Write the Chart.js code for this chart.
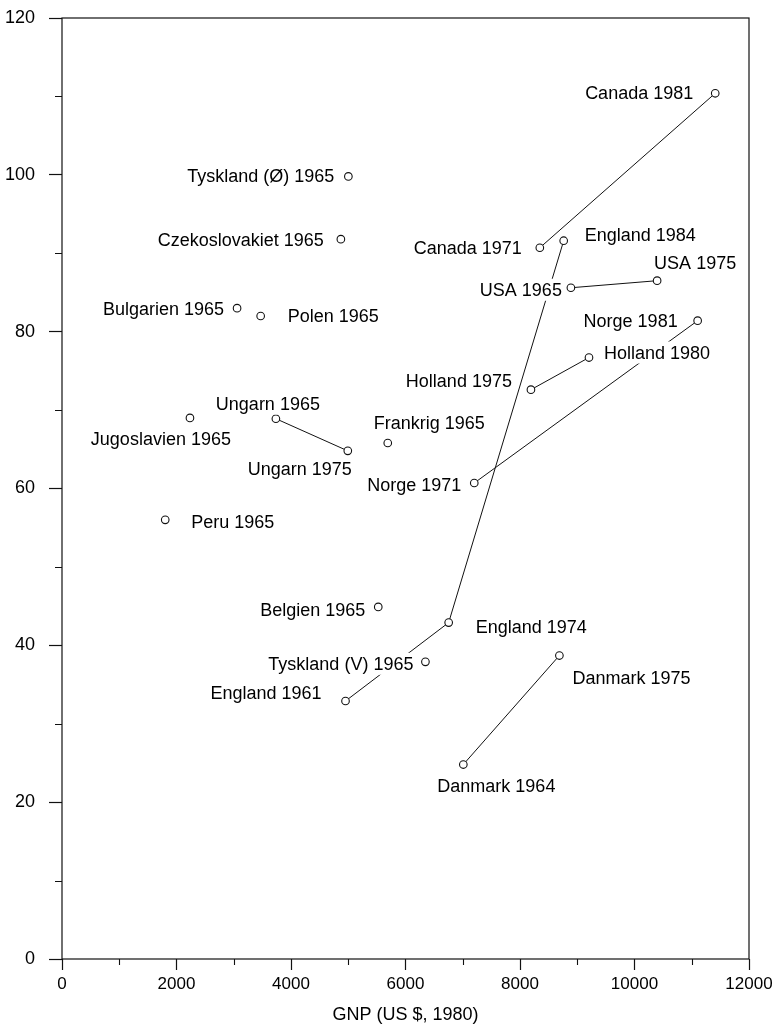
<!DOCTYPE html>
<html>
<head>
<meta charset="utf-8">
<script src="https://cdn.jsdelivr.net/npm/chart.js@4/dist/chart.umd.min.js"></script>
<style>
html,body{margin:0;padding:0;background:#fff;}
#wrap{width:773px;height:1030px;position:relative;}
</style>
</head>
<body>
<div id="wrap"><canvas id="c" width="773" height="1030" style="width:773px;height:1030px"></canvas></div>
<script>
// ---- data ----
const seriesNames = ["Canada", "England", "USA", "Norge", "Holland", "Ungarn", "Danmark",
  "Tyskland (Ø)", "Czekoslovakiet", "Bulgarien", "Polen", "Jugoslavien", "Peru",
  "Frankrig", "Belgien", "Tyskland (V)"];
const seriesYears = [[1971, 1981], [1961, 1974, 1984], [1965, 1975], [1971, 1981], [1975, 1980],
  [1965, 1975], [1964, 1975], [1965], [1965], [1965], [1965], [1965], [1965], [1965], [1965], [1965]];
const seriesGNP = [[8346, 11410], [4952, 6754, 8763], [8889, 10395], [7201, 11103], [8191, 9205],
  [3736, 4992], [7010, 8688], [5002], [4871], [3058], [3470], [2235], [1803], [5690], [5524], [6348]];
const seriesValues = [[90.7, 110.4], [32.9, 42.9, 91.6], [85.6, 86.5], [60.7, 81.4], [72.6, 76.7],
  [68.9, 64.8], [24.8, 38.7], [99.8], [91.8], [83.0], [82.0], [69.0], [56.0], [65.8], [44.9], [37.9]];
const xTicks = [0, 2000, 4000, 6000, 8000, 10000, 12000];
const yTicks = [0, 20, 40, 60, 80, 100, 120];
const xMinorTicks = [1000, 3000, 5000, 7000, 9000, 11000];
const yMinorTicks = [10, 30, 50, 70, 90, 110];
const xTitle = "GNP (US $, 1980)";

// ---- label placement (style, relative to each point) ----
const labelPlacement = {
  "Canada 1981": ["right", -22, 0],
  "Canada 1971": ["right", -18, 0],
  "England 1984": ["left", 21, -6],
  "England 1974": ["left", 27, 4],
  "England 1961": ["right", -24, -8],
  "USA 1965": ["right", -9, 2],
  "USA 1975": ["left", -3, -18],
  "Norge 1971": ["right", -13, 2],
  "Norge 1981": ["right", -20, 0],
  "Holland 1975": ["right", -19, -9],
  "Holland 1980": ["left", 15, -5],
  "Ungarn 1965": ["center", -8, -15],
  "Ungarn 1975": ["right", 4, 18],
  "Danmark 1964": ["left", -26, 22],
  "Danmark 1975": ["left", 13, 23],
  "Tyskland (Ø) 1965": ["right", -14, 0],
  "Czekoslovakiet 1965": ["right", -17, 1],
  "Bulgarien 1965": ["right", -13, 1],
  "Polen 1965": ["left", 27, 0],
  "Jugoslavien 1965": ["right", 41, 21],
  "Peru 1965": ["left", 26, 2],
  "Frankrig 1965": ["left", -14, -20],
  "Belgien 1965": ["right", -13, 3],
  "Tyskland (V) 1965": ["right", -12, 2]
};

const FONT = '"Liberation Sans", Arial, Helvetica, sans-serif';
const INK = '#111';

const datasets = seriesNames.map((name, i) => ({
  label: name,
  data: seriesGNP[i].map((g, j) => ({ x: g, y: seriesValues[i][j] })),
  years: seriesYears[i],
  showLine: seriesGNP[i].length > 1,
  borderColor: INK,
  borderWidth: 1,
  pointRadius: 3.8,
  pointBorderWidth: 1.1,
  pointBackgroundColor: '#fff',
  pointBorderColor: INK,
  tension: 0
}));

const framePlugin = {
  id: 'frame',
  afterDraw(chart) {
    const { ctx, chartArea: a, scales } = chart;
    ctx.save();
    ctx.strokeStyle = INK;
    ctx.lineWidth = 1.2;
    ctx.strokeRect(a.left, a.top, a.right - a.left, a.bottom - a.top);
    ctx.lineWidth = 1.1;
    ctx.beginPath();
    xMinorTicks.forEach(v => {
      const px = Math.round(scales.x.getPixelForValue(v)) + 0.5;
      ctx.moveTo(px, a.bottom); ctx.lineTo(px, a.bottom + 6);
    });
    yMinorTicks.forEach(v => {
      const py = Math.round(scales.y.getPixelForValue(v)) + 0.5;
      ctx.moveTo(a.left - 7, py); ctx.lineTo(a.left, py);
    });
    ctx.stroke();
    ctx.restore();
  }
};

const labelPlugin = {
  id: 'pointLabels',
  afterDatasetsDraw(chart) {
    const ctx = chart.ctx;
    ctx.save();
    ctx.font = '18px ' + FONT;
    ctx.textBaseline = 'middle';
    chart.data.datasets.forEach((ds, i) => {
      const meta = chart.getDatasetMeta(i);
      meta.data.forEach((el, j) => {
        const text = ds.label + ' ' + ds.years[j];
        const p = labelPlacement[text] || ["left", 10, 0];
        const w = ctx.measureText(text).width;
        const x = el.x + p[1];
        const y = el.y + p[2];
        const left = p[0] === 'right' ? x - w : (p[0] === 'center' ? x - w / 2 : x);
        ctx.fillStyle = '#fff';
        ctx.fillRect(left - 4, y - 11, w + 8, 22);
        ctx.fillStyle = '#000';
        ctx.textAlign = 'left';
        ctx.fillText(text, left, y + 1);
      });
    });
    ctx.restore();
  }
};

function noPad(s) { s.paddingTop = 0; s.paddingBottom = 0; s.paddingLeft = 0; s.paddingRight = 0; }

new Chart(document.getElementById('c'), {
  type: 'scatter',
  data: { datasets },
  options: {
    responsive: false,
    devicePixelRatio: 1,
    animation: false,
    layout: { padding: { left: 0, right: 24, top: 18, bottom: 0 } },
    plugins: { legend: { display: false }, tooltip: { enabled: false } },
    scales: {
      x: {
        type: 'linear', min: 0, max: 12000,
        afterBuildTicks: s => { s.ticks = xTicks.map(v => ({ value: v })); },
        afterFit: s => { s.height = 71; noPad(s); },
        grid: { display: true, drawOnChartArea: false, drawTicks: true, tickLength: 11, tickColor: INK, tickWidth: 1.2 },
        border: { display: false },
        ticks: { color: '#000', font: { size: 17, family: FONT }, padding: 4, maxRotation: 0, autoSkip: false,
                 callback: v => String(v) },
        title: { display: true, text: xTitle, color: '#000', font: { size: 18, family: FONT }, padding: { top: 0, bottom: 4 } }
      },
      y: {
        type: 'linear', min: 0, max: 120,
        afterBuildTicks: s => { s.ticks = yTicks.map(v => ({ value: v })); },
        afterFit: s => { s.width = 62; noPad(s); },
        grid: { display: true, drawOnChartArea: false, drawTicks: true, tickLength: 13, tickColor: INK, tickWidth: 1.2 },
        border: { display: false },
        ticks: { color: '#000', font: { size: 18, family: FONT }, padding: 14, autoSkip: false,
                 callback: v => String(v) }
      }
    }
  },
  plugins: [framePlugin, labelPlugin]
});
</script>
</body>
</html>
